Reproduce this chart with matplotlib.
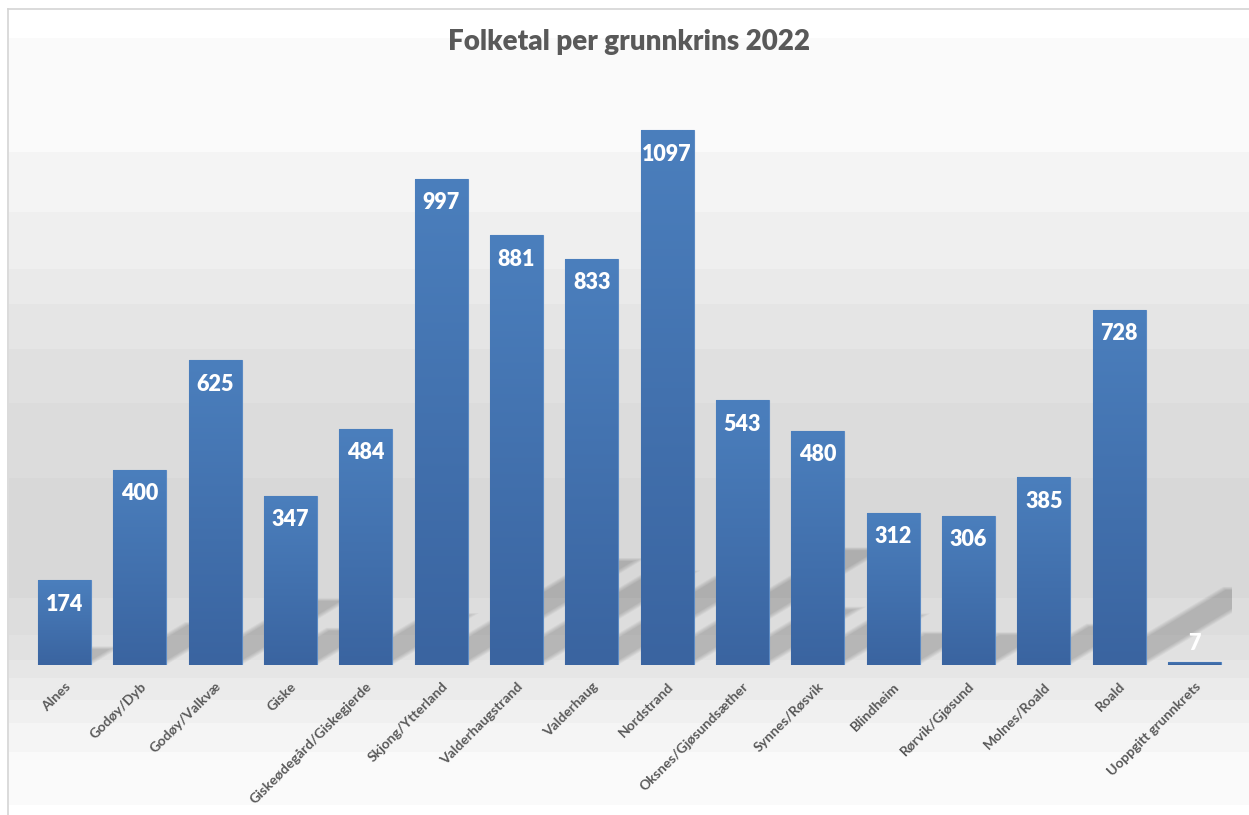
import numpy as np
import matplotlib
matplotlib.use("Agg")
import matplotlib.pyplot as plt
from matplotlib.patches import Polygon, Rectangle

# ---------------- data ----------------
categories = ["Alnes", "Godøy/Dyb", "Godøy/Valkvæ", "Giske",
              "Giskeødegård/Giskegjerde", "Skjong/Ytterland", "Valderhaugstrand",
              "Valderhaug", "Nordstrand", "Oksnes/Gjøsundsæther", "Synnes/Røsvik",
              "Blindheim", "Rørvik/Gjøsund", "Molnes/Roald", "Roald",
              "Uoppgitt grunnkrets"]
values = [174, 400, 625, 347, 484, 997, 881, 833, 1097, 543, 480,
          312, 306, 385, 728, 7]
title = "Folketal per grunnkrins 2022"

# ---------------- style ----------------
W, H = 1249, 815
FONT = "Lato"
TEXT_GRAY = "#595959"
BAR_TOP = np.array([0x4b, 0x7f, 0xbd]) / 255
BAR_BOT = np.array([0x3a, 0x64, 0xa0]) / 255

# background bands (pixel rows, gray level)
band_edges = [8, 38, 152, 212, 269, 304, 349, 403, 478, 598, 635, 660,
              678, 700, 723, 752, 805, 815]
band_grays = [0xff, 0xfa, 0xf4, 0xef, 0xea, 0xe5, 0xe0, 0xdc, 0xd8, 0xdd,
              0xe1, 0xe6, 0xeb, 0xf0, 0xf5, 0xfa, 0xff]

fig = plt.figure(figsize=(W / 100, H / 100), dpi=100)
fig.patch.set_facecolor("white")

# background axes in pixel coordinates
bg = fig.add_axes([0, 0, 1, 1])
bg.set_xlim(0, W)
bg.set_ylim(H, 0)
bg.axis("off")
for y0, y1, g in zip(band_edges[:-1], band_edges[1:], band_grays):
    c = (g / 255,) * 3
    bg.add_patch(Rectangle((9, y0), W - 9, y1 - y0, facecolor=c,
                           edgecolor="none", zorder=0))
bg.plot([8.5, 8.5], [8.5, H], color="#d4d4d4", lw=1.2, zorder=1)
bg.plot([8.5, W], [8.5, 8.5], color="#d4d4d4", lw=1.2, zorder=1)

# main axes
left_px, right_px = 26.8, 1232.2
base_px, top_px = 665.0, 79.8
ax = fig.add_axes([left_px / W, (H - base_px) / H,
                   (right_px - left_px) / W, (base_px - top_px) / H])
ax.patch.set_alpha(0)
ymax = 1200
ax.set_xlim(-0.5, len(categories) - 0.5)
ax.set_ylim(0, ymax)
for s in ax.spines.values():
    s.set_visible(False)
ax.set_yticks([])

x = np.arange(len(categories))
bw = 0.70

# perspective shadows (soft, layered)
px_per_unit = (base_px - top_px) / ymax
px_per_cat = (right_px - left_px) / len(categories)
for xi, v in zip(x, values):
    dy = 0.22 * v
    dx = dy * px_per_unit / 0.6 / px_per_cat
    for k, ins in enumerate([0.0, 0.025, 0.05, 0.075, 0.1]):
        x0, x1 = xi - bw / 2 + ins, xi + bw / 2 - ins
        top = max(dy - ins * 60, 0)
        frac = top / dy if dy > 0 else 0
        poly = Polygon([(x0, 0), (x1, 0), (x1 + dx * frac, top), (x0 + dx * frac, top)],
                       closed=True, facecolor="black", edgecolor="none",
                       alpha=0.04, zorder=1)
        ax.add_patch(poly)

# bars with vertical gradient
bars = ax.bar(x, values, width=bw, color=BAR_BOT, edgecolor="#5b8ac4",
              linewidth=0.8, zorder=2)
grad = np.linspace(0, 1, 256)[:, None]
img = BAR_TOP[None, None, :] * (1 - grad[..., None]) + BAR_BOT[None, None, :] * grad[..., None]
img = np.repeat(img, 2, axis=1)
for b in bars:
    bx, by = b.get_x(), b.get_y()
    bwid, bh = b.get_width(), b.get_height()
    im = ax.imshow(img, extent=(bx, bx + bwid, by, by + bh), aspect="auto",
                   origin="upper", zorder=3, interpolation="bilinear")
    im.set_clip_path(b)
ax.set_xlim(-0.5, len(categories) - 0.5)
ax.set_ylim(0, ymax)

# value labels
for xi, v in zip(x, values):
    off = -24 if v * px_per_unit > 40 else 18
    ax.annotate(str(v), (xi, v), xytext=(0, off), textcoords="offset pixels",
                ha="center", va="center", color="white", fontsize=15.5,
                fontweight="heavy", family=FONT, zorder=5)

# category labels
ax.set_xticks(x)
ax.set_xticklabels(categories, rotation=45, ha="right", rotation_mode="anchor",
                   fontsize=10, fontweight="bold", color=TEXT_GRAY, family=FONT)
ax.tick_params(axis="x", length=0, pad=11)

fig.text(629 / W, 1 - 42 / H, title, ha="center", va="center", fontsize=20,
         fontweight="heavy", color=TEXT_GRAY, family=FONT)

fig.savefig("out.png", dpi=100)
